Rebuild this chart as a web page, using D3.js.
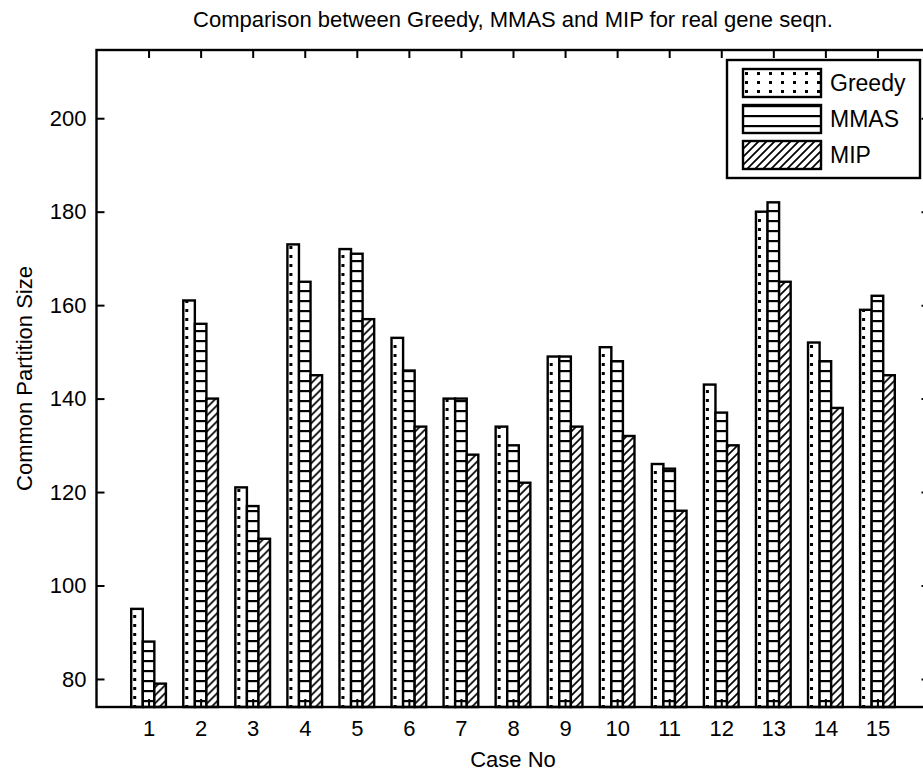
<!DOCTYPE html>
<html>
<head>
<meta charset="utf-8">
<script src="https://cdn.jsdelivr.net/npm/d3@7"></script>
<style>
  body { margin: 0; background: #fff; }
  svg { display: block; font-family: "Liberation Sans", Arial, sans-serif; }
</style>
</head>
<body>
<div id="chart"></div>
<script>
// Grouped bar chart, MATLAB style with hatch fills.
var cases = [1, 2, 3, 4, 5, 6, 7, 8, 9, 10, 11, 12, 13, 14, 15];
var greedy = [95, 161, 121, 173, 172, 153, 140, 134, 149, 151, 126, 143, 180, 152, 159];
var mmas   = [88, 156, 117, 165, 171, 146, 140, 130, 149, 148, 125, 137, 182, 148, 162];
var mip    = [79, 140, 110, 145, 157, 134, 128, 122, 134, 132, 116, 130, 165, 138, 145];
var seriesNames = ["Greedy", "MMAS", "MIP"];
var yTicks = [80, 100, 120, 140, 160, 180, 200];

(function () {
  var width = 923, height = 775;
  var left = 96.5, right = 929.5, top = 50, bottom = 707;
  var fs = 22;

  var svg = d3.select("#chart").append("svg")
    .attr("width", width).attr("height", height);

  var x = d3.scaleLinear().domain([0, 16]).range([left, right]);
  var y = d3.scaleLinear().domain([74, 214.6]).range([bottom, top]);

  // hatch patterns, one per series
  var defs = svg.append("defs");
  var pg = defs.append("pattern").attr("id", "pat0")
    .attr("patternUnits", "userSpaceOnUse").attr("width", 12).attr("height", 9);
  pg.append("rect").attr("x", 2).attr("y", 3).attr("width", 3).attr("height", 3).attr("fill", "#000");

  var pm = defs.append("pattern").attr("id", "pat1")
    .attr("patternUnits", "userSpaceOnUse").attr("width", 12).attr("height", 10);
  pm.append("rect").attr("x", 0).attr("y", 0).attr("width", 12).attr("height", 2.2).attr("fill", "#000");

  var pi = defs.append("pattern").attr("id", "pat2")
    .attr("patternUnits", "userSpaceOnUse").attr("width", 8).attr("height", 8);
  pi.append("path").attr("d", "M0,8L8,0M-2,2L2,-2M6,10L10,6")
    .attr("stroke", "#000").attr("stroke-width", 1.7);

  var series = [greedy, mmas, mip];
  var barW = 0.2222;

  // bars
  series.forEach(function (vals, s) {
    var g = svg.append("g");
    cases.forEach(function (c, i) {
      var x0 = x(c + (s - 1.5) * barW);
      var bw = x(barW) - x(0);
      var b = g.append("g").attr("transform", "translate(" + x0 + ",0)");
      b.append("rect").attr("x", 0).attr("y", y(vals[i]))
        .attr("width", bw).attr("height", bottom - y(vals[i])).attr("fill", "#fff");
      b.append("rect").attr("x", 0).attr("y", y(vals[i]))
        .attr("width", bw).attr("height", bottom - y(vals[i]))
        .attr("fill", "url(#pat" + s + ")")
        .attr("stroke", "#000").attr("stroke-width", 2.4);
    });
  });

  // axes
  function style(g) {
    g.select(".domain").remove();
    g.selectAll("line").attr("stroke", "#000").attr("stroke-width", 2);
    g.selectAll("text").attr("font-size", fs).attr("fill", "#000")
      .attr("font-family", "Liberation Sans, Arial, sans-serif");
  }
  svg.append("g").attr("transform", "translate(" + left + ",0)")
    .call(d3.axisLeft(y).tickValues(yTicks).tickSize(-8).tickPadding(10)).call(style);
  svg.append("g").attr("transform", "translate(" + right + ",0)")
    .call(d3.axisRight(y).tickValues(yTicks).tickSize(-8).tickFormat("")).call(style);
  svg.append("g").attr("transform", "translate(0," + bottom + ")")
    .call(d3.axisBottom(x).tickValues(cases).tickSize(-8).tickPadding(13).tickFormat(d3.format("d"))).call(style);
  svg.append("g").attr("transform", "translate(0," + top + ")")
    .call(d3.axisTop(x).tickValues(cases).tickSize(-8).tickFormat("")).call(style);

  svg.append("rect").attr("x", left).attr("y", top)
    .attr("width", right - left).attr("height", bottom - top)
    .attr("fill", "none").attr("stroke", "#000").attr("stroke-width", 2.4);

  // legend
  var lg = svg.append("g");
  lg.append("rect").attr("x", 727).attr("y", 60).attr("width", 193).attr("height", 118)
    .attr("fill", "#fff").attr("stroke", "#000").attr("stroke-width", 2.4);
  seriesNames.forEach(function (name, s) {
    var yy = 69 + s * 36;
    var sw = lg.append("g").attr("transform", "translate(743," + yy + ")");
    sw.append("rect").attr("width", 78).attr("height", 28).attr("fill", "#fff");
    sw.append("rect").attr("width", 78).attr("height", 28)
      .attr("fill", "url(#pat" + s + ")").attr("stroke", "#000").attr("stroke-width", 2.4);
    lg.append("text").attr("x", 830).attr("y", yy + 22).attr("font-size", fs + 1).text(name);
  });

  // labels
  svg.append("text").attr("x", (left + right) / 2).attr("y", 27)
    .attr("text-anchor", "middle").attr("font-size", fs)
    .text("Comparison between Greedy, MMAS and MIP for real gene seqn.");
  svg.append("text").attr("x", (left + right) / 2).attr("y", 767)
    .attr("text-anchor", "middle").attr("font-size", fs).text("Case No");
  svg.append("text").attr("transform", "translate(32," + (top + bottom) / 2 + ") rotate(-90)")
    .attr("text-anchor", "middle").attr("font-size", fs).text("Common Partition Size");
})();
</script>
</body>
</html>
